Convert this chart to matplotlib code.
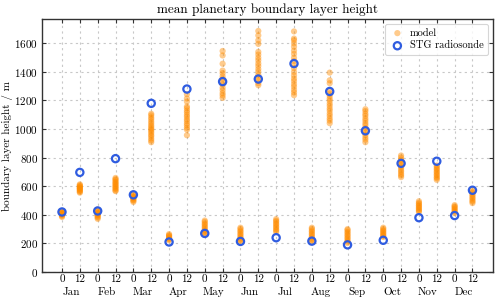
import numpy as np
import matplotlib
matplotlib.use("Agg")
import matplotlib.pyplot as plt

plt.rcParams['font.family'] = 'serif'
plt.rcParams['font.serif'] = ['cmr10', 'DejaVu Serif']
plt.rcParams['mathtext.fontset'] = 'cm'
plt.rcParams['axes.formatter.use_mathtext'] = True

months = ['Jan', 'Feb', 'Mar', 'Apr', 'May', 'Jun',
          'Jul', 'Aug', 'Sep', 'Oct', 'Nov', 'Dec']
hours = ['0', '12']

# model PBL heights (m), one list per month/hour slot
model = [
    [385, 391, 398, 401, 405, 409, 411, 414, 416, 419, 421],                  # Jan 0
    [555, 561, 568, 572, 579, 583, 586, 591, 596, 601, 607, 613],             # Jan 12
    [372, 381, 387, 396, 399, 406, 411, 414, 421, 427, 437],                  # Feb 0
    [566, 571, 581, 587, 596, 601, 611, 617, 626, 632, 643, 649, 658],        # Feb 12
    [490, 499, 504, 513, 517, 525, 529, 538, 546],                            # Mar 0
    [908, 921, 934, 949, 959, 973, 984, 996, 1004, 1016, 1027, 1041, 1054,
     1069, 1081, 1096, 1107],                                                 # Mar 12
    [222, 229, 233, 241, 245, 253, 257, 265],                                 # Apr 0
    [957, 996, 1009, 1026, 1039, 1056, 1069, 1086, 1099, 1116, 1129, 1146,
     1158, 1192, 1214, 1244],                                                 # Apr 12
    [260, 271, 279, 291, 299, 311, 319, 331, 339, 351, 360],                  # May 0
    [1218, 1236, 1251, 1271, 1289, 1311, 1329, 1351, 1369, 1391, 1409, 1457,
     1515, 1546],                                                             # May 12
    [210, 221, 229, 241, 249, 261, 269, 281, 289, 301, 310],                  # Jun 0
    [1307, 1321, 1339, 1361, 1379, 1401, 1419, 1441, 1459, 1481, 1499, 1521,
     1540, 1596, 1621, 1655, 1686],                                           # Jun 12
    [280, 291, 299, 311, 319, 331, 339, 351, 359, 370],                       # Jul 0
    [1237, 1256, 1274, 1296, 1314, 1336, 1354, 1376, 1399, 1426, 1449, 1476,
     1499, 1526, 1549, 1576, 1599, 1621, 1633, 1683],                         # Jul 12
    [210, 221, 229, 241, 249, 261, 269, 281, 289, 301, 310],                  # Aug 0
    [1041, 1059, 1074, 1093, 1109, 1129, 1144, 1163, 1179, 1199, 1214, 1233,
     1249, 1272, 1321, 1341, 1395],                                           # Aug 12
    [203, 213, 221, 233, 241, 253, 261, 273, 281, 293, 300],                  # Sep 0
    [908, 926, 941, 959, 974, 993, 1007, 1026, 1041, 1059, 1074, 1093, 1107,
     1126, 1139],                                                             # Sep 12
    [245, 253, 259, 269, 275, 285, 291, 301, 310],                            # Oct 0
    [664, 676, 687, 701, 711, 726, 737, 751, 761, 776, 787, 801, 815],        # Oct 12
    [420, 429, 435, 445, 451, 461, 467, 477, 484, 495],                       # Nov 0
    [645, 656, 664, 676, 684, 696, 704, 716, 724, 736, 745],                  # Nov 12
    [412, 421, 427, 437, 443, 453, 459, 468],                                 # Dec 0
    [482, 493, 501, 513, 521, 533, 541, 553, 561, 573],                       # Dec 12
]

# STG radiosonde mean PBL heights (m)
radiosonde = [420, 697, 427, 793, 540, 1180, 210, 1280, 270, 1332, 214, 1350,
              240, 1458, 216, 1263, 190, 988, 222, 760, 380, 775, 395, 572]

fig = plt.figure(figsize=(5.0, 3.01), dpi=100)
ax = fig.add_axes([0.084, 0.0963, 0.902, 0.8406])

for i, vals in enumerate(model):
    ax.scatter(np.full(len(vals), i), vals, s=20, color='#ff8c00', alpha=0.45,
               edgecolors='none', zorder=3, label='model' if i == 0 else None)

xpos = np.arange(len(radiosonde))
ax.scatter(xpos, radiosonde, s=27, facecolors='none', edgecolors='#2f5ce0',
           linewidths=1.6, zorder=4, label='STG radiosonde')

ax.set_xlim(-1.12, 24.15)
ax.set_ylim(0, 1770)

ax.set_xticks(xpos)
ax.set_xticklabels(hours * 12, fontsize=8)
ax.set_xticks(np.arange(12) * 2 + 0.5, minor=True)
ax.set_xticklabels(months, minor=True, fontsize=8)
ax.tick_params(axis='x', which='minor', length=0, pad=11)
ax.tick_params(axis='x', which='major', pad=2)
ax.set_yticks(np.arange(0, 1700, 200))
ax.tick_params(axis='y', labelsize=8, pad=3)
ax.tick_params(which='major', direction='in', top=True, right=True,
               length=3, width=0.8, color='#333333')

ax.grid(True, which='major', linestyle=(0, (2, 3)), color='#c8c8c8',
        linewidth=0.8)
ax.set_axisbelow(True)
for sp in ax.spines.values():
    sp.set_color('#333333')
    sp.set_linewidth(1.0)

ax.set_ylabel('boundary layer height / m', fontsize=8, labelpad=1)
ax.set_title('mean planetary boundary layer height', fontsize=9.5, pad=4)

leg = ax.legend(loc='upper right', fontsize=7.5, frameon=True, fancybox=True,
                borderpad=0.4, handletextpad=0.4, labelspacing=0.3,
                handlelength=1.6)
leg.get_frame().set_edgecolor('#cccccc')
leg.get_frame().set_linewidth(0.8)

fig.savefig('out.png', dpi=100)
